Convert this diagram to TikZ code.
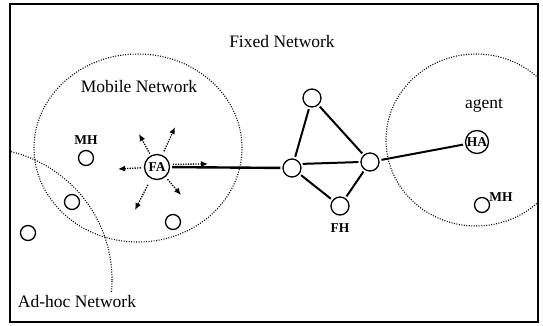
\documentclass[tikz,border=0pt]{standalone}
\usepackage{fontspec}
\setmainfont{Liberation Serif}
\usetikzlibrary{arrows.meta}
\begin{document}
\begin{tikzpicture}[x=1pt,y=-1pt,
  host/.style={circle, draw, line width=1.3pt, minimum size=15pt, inner sep=0pt},
  router/.style={circle, draw, line width=1.3pt, minimum size=18pt, inner sep=0pt},
  agentnode/.style={circle, draw, line width=1.3pt, inner sep=0pt, minimum size=25pt,
    font=\fontsize{13.5}{15}\selectfont\bfseries},
  lbl/.style={font=\fontsize{17.5}{20}\selectfont},
  hostlbl/.style={font=\fontsize{13.5}{15}\selectfont\bfseries},
  zone/.style={line width=1.1pt, dash pattern=on 1pt off 1.5pt},
  link/.style={line width=2pt, shorten >=2pt, shorten <=2pt},
  beacon/.style={line width=1.3pt, dash pattern=on 1.3pt off 1.2pt,
    -{Latex[length=7pt,width=6pt]}, shorten <=2pt}]
\useasboundingbox (0,0) rectangle (543,325);

% outer frame
\draw[line width=1.4pt] (10,4) rectangle (538,322);

% network areas
\draw[zone] (138,148) ellipse [x radius=104pt, y radius=94pt];
\begin{scope}
  \clip (10,4) rectangle (538,322);
  \draw[zone] (476,140) ellipse [x radius=90pt, y radius=86pt];
\end{scope}
\begin{scope}
  \clip (10,4) rectangle (538,291);
  \draw[zone] (-20,280) circle [radius=132pt];
\end{scope}

% area titles
\node[lbl] (tfixed) at (282,42) {Fixed Network};
\node[lbl] (tmobile) at (139,87) {Mobile Network};
\node[lbl] (tadhoc) at (77,302) {Ad-hoc Network};
\node[lbl] (tagent) at (484,105) {agent};

% mobile side
\node[host] (mh1) at (86,158) {};
\node[hostlbl] (mh1l) at (86,140) {MH};
\node[agentnode] (fa) at (157,167) {FA};
\node[host] (h2) at (72,202) {};
\node[host] (h3) at (28,233) {};
\node[host] (h4) at (173,222) {};

% fixed network
\node[router] (r1) at (312,98) {};
\node[router] (r2) at (292,168) {};
\node[router] (r3) at (370,162) {};
\node[router] (fh) at (340,206) {};
\node[hostlbl] (fhl) at (340,228) {FH};

% home side
\node[agentnode, minimum size=23pt] (ha) at (477,142) {HA};
\node[host] (mh2) at (482,205) {};
\node[hostlbl] (mh2l) at (501,197) {MH};

% wired links
\draw[link, line width=2.4pt] (fa) -- (r2);
\draw[link] (r1) -- (r2);
\draw[link] (r1) -- (r3);
\draw[link] (r2.25) -- (r3.west);
\draw[link] (r2) -- (fh);
\draw[link] (fh) -- (r3);
\draw[link] (r3) -- (ha);

% agent advertisements
\coordinate (t1) at (139,134);
\coordinate (t2) at (175,127);
\coordinate (t3) at (118,169);
\coordinate (t4) at (208,164);
\coordinate (t5) at (181,195);
\coordinate (t6) at (135,210);
\draw[beacon] (fa) -- (t1);
\draw[beacon, shorten <=4pt] (fa) -- (t2);
\draw[beacon, shorten <=3pt] (fa) -- (t3);
\draw[beacon, shorten <=3pt] (fa.12) -- (t4);
\draw[beacon, shorten <=3pt] (fa) -- (t5);
\draw[beacon, shorten <=7pt] (fa) -- (t6);
\end{tikzpicture}
\end{document}
